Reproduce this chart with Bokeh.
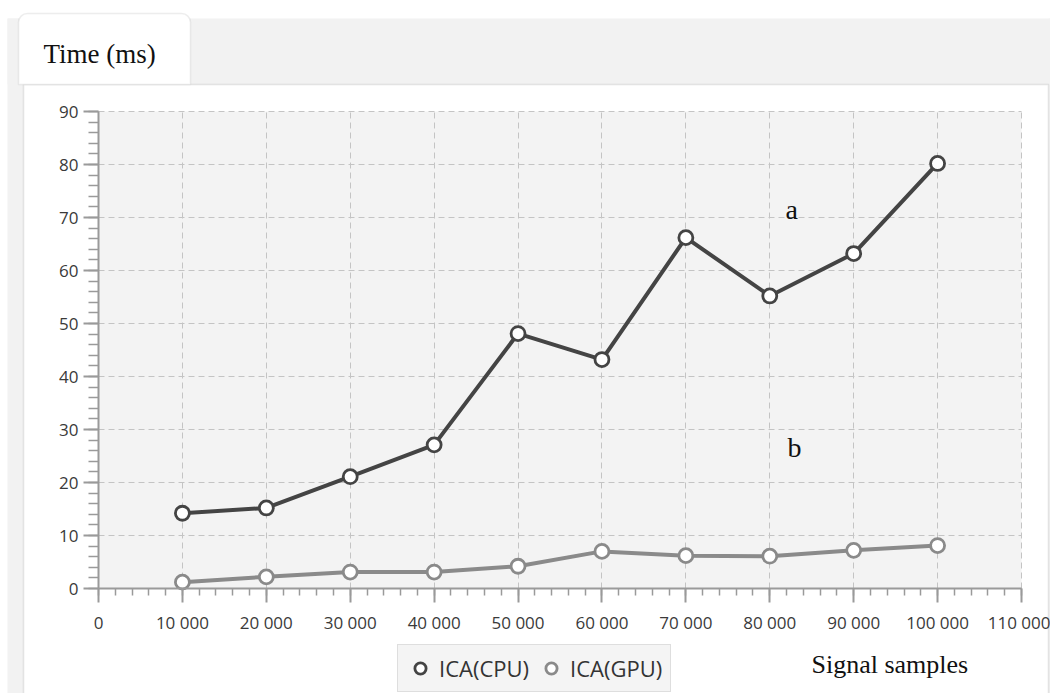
from bokeh.plotting import figure
from bokeh.models import (Legend, LegendItem, Label, BoxAnnotation, FixedTicker,
                          CustomJSTickFormatter, Range1d)
from bokeh.embed import file_html
from bokeh.resources import INLINE

# ---------------- data ----------------
samples = [10000, 20000, 30000, 40000, 50000, 60000, 70000, 80000, 90000, 100000]
cpu_ms = [14.2, 15.2, 21.1, 27.1, 48.1, 43.2, 66.2, 55.2, 63.2, 80.2]
gpu_ms = [1.2, 2.2, 3.1, 3.1, 4.2, 7.0, 6.2, 6.1, 7.2, 8.1]
series_names = ["ICA(CPU)", "ICA(GPU)"]
x_ticks = [0, 10000, 20000, 30000, 40000, 50000, 60000, 70000, 80000, 90000, 100000, 110000]
y_ticks = [0, 10, 20, 30, 40, 50, 60, 70, 80, 90]
y_title = "Time (ms)"
x_title = "Signal samples"
curve_labels = ["a", "b"]

# ---------------- layout helpers (picture pixels -> data) ----------------
X_MIN, X_MAX, Y_MIN, Y_MAX = 0, 110000, 0, 90
FL, FR, FT, FB = 98, 1021, 111, 588  # plot-area edges in picture pixels
W, H = 1050, 693


def px2x(px):
    return X_MIN + (px - FL) / (FR - FL) * (X_MAX - X_MIN)


def py2y(py):
    return Y_MIN + (FB - py) / (FB - FT) * (Y_MAX - Y_MIN)


p = figure(width=W, height=H, min_border=0,
           x_range=Range1d(px2x(0), px2x(W)), y_range=Range1d(py2y(H), py2y(0)),
           output_backend="svg", toolbar_location=None,
           background_fill_color="white", border_fill_color="white")
p.outline_line_color = None

# ---------------- decorations (panel, tab, plot area) ----------------
gray = "#f2f2f2"
for (l, r, t, b) in [(7, 23, 18, 720), (7, 1100, 18, 84), (1048, 1100, 18, 720)]:
    p.add_layout(BoxAnnotation(left=px2x(l), right=px2x(r), top=py2y(t), bottom=py2y(b),
                               fill_color=gray, fill_alpha=1, line_color=None, level="image"))
p.add_layout(BoxAnnotation(left=px2x(23), right=px2x(1048), top=py2y(84), bottom=py2y(720),
                           fill_color="white", fill_alpha=1, line_color="#a8a8a8",
                           line_width=1.5, level="image"))
p.add_layout(BoxAnnotation(left=px2x(18), right=px2x(190), top=py2y(13), bottom=py2y(84),
                           fill_color="white", fill_alpha=1, line_color="#c4c4c4", line_width=1.5,
                           border_radius=(9, 9, 0, 0), level="image"))
p.add_layout(BoxAnnotation(left=X_MIN, right=X_MAX, top=Y_MAX, bottom=Y_MIN,
                           fill_color="#f3f3f3", fill_alpha=1, line_color=None, level="image"))

# ---------------- series ----------------
cpu_col, gpu_col = "#444444", "#8a8a8a"
p.line(samples, cpu_ms, line_color=cpu_col, line_width=4)
p.line(samples, gpu_ms, line_color=gpu_col, line_width=4)
r_cpu = p.scatter(samples, cpu_ms, marker="circle", size=14, fill_color="white",
                  line_color=cpu_col, line_width=2.8)
r_gpu = p.scatter(samples, gpu_ms, marker="circle", size=14, fill_color="white",
                  line_color=gpu_col, line_width=2.8)

# ---------------- axes ----------------
p.xaxis.ticker = FixedTicker(ticks=x_ticks, minor_ticks=list(range(0, 110001, 2000)))
p.yaxis.ticker = FixedTicker(ticks=y_ticks, minor_ticks=list(range(0, 91, 2)))
p.xaxis.formatter = CustomJSTickFormatter(
    code=r"return tick.toFixed(0).replace(/\B(?=(\d{3})+(?!\d))/g, ' ');")
p.xaxis.fixed_location = Y_MIN
p.yaxis.fixed_location = X_MIN
p.xaxis.bounds = (X_MIN, X_MAX)
p.yaxis.bounds = (Y_MIN, Y_MAX)
for ax in (p.xaxis, p.yaxis):
    ax.axis_line_color = "#9a9a9a"
    ax.axis_line_width = 2
    ax.major_tick_line_color = "#9a9a9a"
    ax.major_tick_line_width = 2
    ax.minor_tick_line_color = "#9a9a9a"
    ax.minor_tick_line_width = 1.5
    ax.major_tick_in = 0
    ax.minor_tick_in = 0
    ax.major_label_text_font = "Open Sans"
    ax.major_label_text_font_size = "17px"
    ax.major_label_text_color = "#3a3a3a"
p.xaxis.major_tick_out = 14
p.xaxis.minor_tick_out = 7
p.xaxis.major_label_standoff = 8
p.yaxis.major_tick_out = 15
p.yaxis.minor_tick_out = 10
p.yaxis.major_label_standoff = 5

for g in (p.xgrid, p.ygrid):
    g.grid_line_color = "#c4c4c4"
    g.grid_line_dash = "6 4"
    g.grid_line_width = 1
p.xgrid.bounds = (X_MIN, X_MAX)
p.ygrid.bounds = (Y_MIN, Y_MAX)
try:
    p.xgrid.cross_bounds = (Y_MIN, Y_MAX)
    p.ygrid.cross_bounds = (X_MIN, X_MAX)
except Exception:
    p.xgrid.visible = False
    p.ygrid.visible = False
    p.segment(x0=x_ticks, y0=[Y_MIN] * len(x_ticks), x1=x_ticks, y1=[Y_MAX] * len(x_ticks),
              line_color="#c4c4c4", line_dash="6 4", line_width=1, level="underlay")
    p.segment(x0=[X_MIN] * len(y_ticks), y0=y_ticks, x1=[X_MAX] * len(y_ticks), y1=y_ticks,
              line_color="#c4c4c4", line_dash="6 4", line_width=1, level="underlay")

# ---------------- texts ----------------
serif = "Liberation Serif"
p.add_layout(Label(x=px2x(43), y=py2y(53), text=y_title, text_font=serif,
                   text_font_size="27px", text_color="#111111", text_align="left",
                   text_baseline="alphabetic"))
p.add_layout(Label(x=px2x(811), y=py2y(664), text=x_title, text_font=serif,
                   text_font_size="26px", text_color="#111111", text_align="left",
                   text_baseline="alphabetic"))
p.add_layout(Label(x=px2x(785), y=py2y(209), text=curve_labels[0], text_font=serif,
                   text_font_size="28px", text_color="#111111", text_align="left",
                   text_baseline="alphabetic"))
p.add_layout(Label(x=px2x(787), y=py2y(447), text=curve_labels[1], text_font=serif,
                   text_font_size="28px", text_color="#111111", text_align="left",
                   text_baseline="alphabetic"))

# ---------------- legend ----------------
legend = Legend(items=[LegendItem(label=series_names[0], renderers=[r_cpu]),
                       LegendItem(label=series_names[1], renderers=[r_gpu])],
                orientation="horizontal", location=(397, H - 692),
                label_text_font="Open Sans", label_text_font_size="22px",
                label_text_color="#333333", border_line_color="#c8c8c8",
                border_line_width=1.5, background_fill_color="#f4f4f4",
                background_fill_alpha=1, padding=8, spacing=8, glyph_width=28,
                glyph_height=30, label_standoff=5, label_height=30, margin=0)
p.add_layout(legend)

open("out.html", "w").write(file_html(p, INLINE))
